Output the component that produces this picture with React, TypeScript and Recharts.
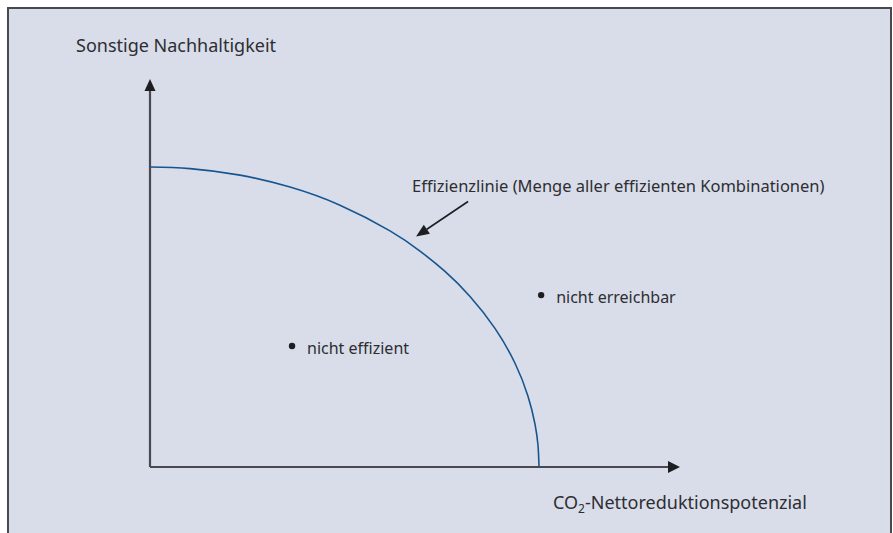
import React from 'react';
import { ComposedChart, Line, Scatter, XAxis, YAxis, ReferenceLine } from 'recharts';

// Efficiency frontier
const curveX = [0, 7.55, 16.98, 26.42, 35.85, 45.28, 50.94, 55.66, 60.38, 65.09, 68.87, 71.32, 72.64, 73.21, 73.4];
const curveY = [77.32, 76.91, 75.22, 72.14, 67.47, 60.85, 55.66, 50.4, 43.96, 35.72, 26.74, 18.26, 11.06, 5.54, 0];

// Region labels
const regionLabels = ['nicht erreichbar', 'nicht effizient'];
const regionX = [73.8, 26.8];
const regionY = [44.3, 31.2];

// Annotation arrow pointing at the frontier
const annotationText = 'Effizienzlinie (Menge aller effizienten Kombinationen)';
const annotationX = [50.2];
const annotationY = [59.4];

// Axis titles
const yTitle = 'Sonstige Nachhaltigkeit';
const xTitleMain = 'CO';
const xTitleSub = '2';
const xTitleRest = '-Nettoreduktionspotenzial';

const curveData = curveX.map((x, i) => ({ x, y: curveY[i] }));
const regionData = regionLabels.map((label, i) => ({ x: regionX[i], y: regionY[i], label }));
const annotationData = annotationX.map((x, i) => ({ x, y: annotationY[i], label: annotationText }));
const axisTipData = [
  { x: 100, y: 0, dir: 'right' },
  { x: 0, y: 100, dir: 'up' },
];

const FONT = '"Noto Sans", sans-serif';
const TEXT = '#2e2e32';
const AXIS = '#48484e';
const CURVE = '#17558f';

const W = 893;
const H = 533;

const AxisTip = (props: any) => {
  const { cx, cy, payload } = props;
  if (payload.dir === 'right') {
    return <path d={`M${cx},${cy} L${cx - 12},${cy - 6} L${cx - 12},${cy + 6} Z`} fill="#1e1e22" />;
  }
  return <path d={`M${cx},${cy} L${cx - 5.5},${cy + 12} L${cx + 5.5},${cy + 12} Z`} fill="#1e1e22" />;
};

const RegionMark = (props: any) => {
  const { cx, cy, payload } = props;
  return (
    <g>
      <circle cx={cx} cy={cy} r={3.2} fill="#1e1e22" />
      <text x={cx + 15} y={cy + 8} fontFamily={FONT} fontSize={16} fill={TEXT}>
        {payload.label}
      </text>
    </g>
  );
};

const AnnotationMark = (props: any) => {
  const { cx, cy, payload } = props;
  const tx = cx + 52;
  const ty = cy - 35;
  const ang = Math.atan2(cy - ty, cx - tx);
  const len = 13;
  const half = 5.5;
  const bx = cx - len * Math.cos(ang);
  const by = cy - len * Math.sin(ang);
  const px = -Math.sin(ang) * half;
  const py = Math.cos(ang) * half;
  return (
    <g>
      <line x1={tx} y1={ty} x2={bx} y2={by} stroke="#1e1e22" strokeWidth={1.6} />
      <path d={`M${cx},${cy} L${bx + px},${by + py} L${bx - px},${by - py} Z`} fill="#1e1e22" />
      <text x={cx - 4} y={cy - 45} fontFamily={FONT} fontSize={16.5} fill={TEXT}>
        {payload.label}
      </text>
    </g>
  );
};

const Titles = () => (
  <g>
    <text x={76} y={52} fontFamily={FONT} fontSize={18} fill={TEXT}>
      {yTitle}
    </text>
    <text x={553} y={509} fontFamily={FONT} fontSize={18} fill={TEXT}>
      {xTitleMain}
      <tspan fontSize={12} dy={4}>{xTitleSub}</tspan>
      <tspan dy={-4}>{xTitleRest}</tspan>
    </text>
  </g>
);

export default function App() {
  return (
    <div style={{ position: 'absolute', left: 0, top: 0, width: W, height: H, background: '#ffffff', overflow: 'hidden' }}>
      <div
        style={{
          position: 'absolute',
          left: 7,
          top: 7,
          width: 881,
          height: 540,
          background: '#d8dde9',
          borderLeft: `2px solid ${AXIS}`,
          borderTop: `2px solid ${AXIS}`,
          borderRight: `2px solid ${AXIS}`,
        }}
      />
      <div style={{ position: 'absolute', left: 0, top: 0 }}>
        <ComposedChart width={W} height={H} margin={{ top: 79, left: 150, right: 213, bottom: 66 }}>
          <XAxis type="number" dataKey="x" domain={[0, 100]} hide />
          <YAxis type="number" dataKey="y" domain={[0, 100]} hide />
          <ReferenceLine
            segment={[{ x: 0, y: 0 }, { x: 99, y: 0 }]}
            stroke={AXIS}
            strokeWidth={2.2}
            ifOverflow="visible"
          />
          <ReferenceLine
            segment={[{ x: 0, y: 0 }, { x: 0, y: 99 }]}
            stroke={AXIS}
            strokeWidth={2.2}
            ifOverflow="visible"
          />
          <Line
            data={curveData}
            dataKey="y"
            type="natural"
            stroke={CURVE}
            strokeWidth={1.6}
            dot={false}
            activeDot={false}
            isAnimationActive={false}
          />
          <Scatter data={axisTipData} dataKey="y" shape={AxisTip} isAnimationActive={false} />
          <Scatter data={regionData} dataKey="y" shape={RegionMark} isAnimationActive={false} />
          <Scatter data={annotationData} dataKey="y" shape={AnnotationMark} isAnimationActive={false} />
          <Titles />
        </ComposedChart>
      </div>
    </div>
  );
}
